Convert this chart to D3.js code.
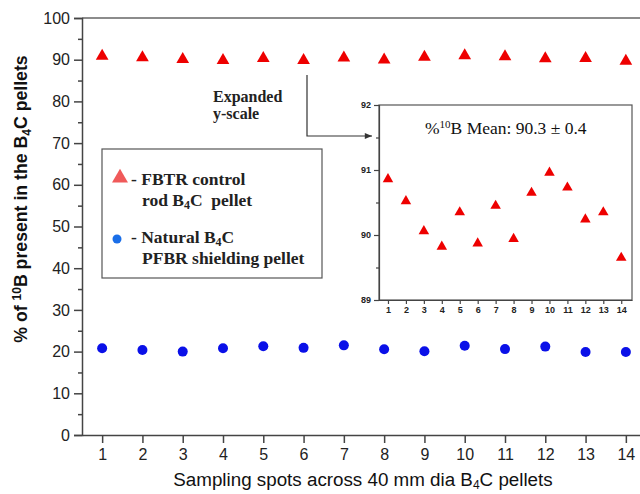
<!DOCTYPE html>
<html><head><meta charset="utf-8">
<script src="https://cdn.jsdelivr.net/npm/d3@7"></script>
<style>body{margin:0;background:#fff}svg{display:block}</style>
</head><body>
<script>
const spots = [1,2,3,4,5,6,7,8,9,10,11,12,13,14];
const fbtr = [90.86,90.52,90.06,89.82,90.35,89.87,90.45,89.94,90.65,90.96,90.73,90.24,90.35,89.65];
const natural = [20.8,20.4,20.0,20.8,21.3,20.9,21.5,20.55,20.1,21.4,20.6,21.2,19.9,19.9];
const yTicks = [0,10,20,30,40,50,60,70,80,90,100];
const insetYTicks = [89,90,91,92];

const W=640,H=494;
const svg=d3.select("body").append("svg").attr("width",W).attr("height",H);
const sans="'Liberation Sans', Arial, sans-serif";
const serif="'Liberation Serif', 'Times New Roman', serif";
const axisCol="#444";

const x=d3.scaleLinear().domain([0.5,14.5]).range([82,646]);
const y=d3.scaleLinear().domain([0,100]).range([435,18]);

// top frame
svg.append("line").attr("x1",82).attr("x2",640).attr("y1",y(100)).attr("y2",y(100)).attr("stroke","#666").attr("stroke-width",1.5);

// y axis
const ya=svg.append("g").attr("transform","translate(82,0)")
  .call(d3.axisLeft(y).tickValues(yTicks).tickSize(8).tickPadding(4));
ya.selectAll("text").attr("font-family",sans).attr("font-size",16).attr("fill","#222");
ya.selectAll("line,path").attr("stroke",axisCol).attr("stroke-width",1.5);
const yminor=svg.append("g").attr("transform","translate(82,0)")
  .call(d3.axisLeft(y).tickValues(d3.range(5,100,10)).tickSize(4).tickFormat(""));
yminor.select("path").remove();
yminor.selectAll("line").attr("stroke",axisCol).attr("stroke-width",1.5);

// x axis
const xa=svg.append("g").attr("transform","translate(0,435)")
  .call(d3.axisBottom(x).tickValues(spots).tickSize(8).tickPadding(6).tickSizeOuter(0));
xa.selectAll("text").attr("font-family",sans).attr("font-size",16).attr("fill","#222");
xa.selectAll("line,path").attr("stroke",axisCol).attr("stroke-width",1.5);

// axis titles
const yt=svg.append("text").attr("transform","translate(27,199) rotate(-90)")
  .attr("text-anchor","middle").attr("font-family",sans).attr("font-size",17.7).attr("font-weight","bold").attr("fill","#111");
yt.append("tspan").text("% of ");
yt.append("tspan").attr("dy",-6).attr("font-size",12).text("10");
yt.append("tspan").attr("dy",6).text("B present in the B");
yt.append("tspan").attr("dy",4).attr("font-size",12).text("4");
yt.append("tspan").attr("dy",-4).text("C pellets");

const xt=svg.append("text").attr("x",363).attr("y",486).attr("text-anchor","middle")
  .attr("font-family",sans).attr("font-size",18.8).attr("fill","#111");
xt.append("tspan").text("Sampling spots across 40 mm dia B");
xt.append("tspan").attr("dy",3).attr("font-size",12).text("4");
xt.append("tspan").attr("dy",-3).text("C pellets");

// main markers
const tri=d3.symbol().type(d3.symbolTriangle);
svg.append("g").selectAll("path").data(spots).join("path")
  .attr("d",tri.size(70)).attr("transform",(d,i)=>`translate(${x(d)},${y(fbtr[i])})`).attr("fill","#ee0000");
svg.append("g").selectAll("circle").data(spots).join("circle")
  .attr("cx",d=>x(d)).attr("cy",(d,i)=>y(natural[i])).attr("r",5).attr("fill","#0a10e8");

// Expanded y-scale annotation
svg.append("text").attr("x",213).attr("y",102).attr("font-family",serif).attr("font-size",16).attr("font-weight","bold").attr("fill","#222").text("Expanded");
svg.append("text").attr("x",213).attr("y",119).attr("font-family",serif).attr("font-size",16).attr("font-weight","bold").attr("fill","#222").text("y-scale");
svg.append("defs").append("marker").attr("id","ah").attr("viewBox","0 0 10 10").attr("refX",10).attr("refY",5)
  .attr("markerWidth",7).attr("markerHeight",6).attr("orient","auto")
  .append("path").attr("d","M0,1 L10,5 L0,9 z").attr("fill","#333");
svg.append("path").attr("d","M307,75 L307,136 L372,136").attr("fill","none").attr("stroke","#333").attr("stroke-width",1.2).attr("marker-end","url(#ah)");

// legend
svg.append("rect").attr("x",102).attr("y",149).attr("width",220).attr("height",129).attr("fill","#fff").attr("stroke","#555").attr("stroke-width",1.2);
svg.append("path").attr("d",tri.size(110)).attr("transform","translate(120,178)").attr("fill","#f05a5a");
svg.append("circle").attr("cx",117).attr("cy",239).attr("r",4.5).attr("fill","#1a6ee8");
const lf=(xx,yy)=>svg.append("text").attr("x",xx).attr("y",yy).attr("font-family",serif).attr("font-size",17.5).attr("font-weight","bold").attr("fill","#222");
lf(131,185).text("- FBTR control");
let t=lf(142,206); t.append("tspan").text("rod B"); t.append("tspan").attr("dy",3).attr("font-size",12).text("4"); t.append("tspan").attr("dy",-3).text("C\u00a0\u00a0pellet");
t=lf(131,243); t.append("tspan").text("- Natural B"); t.append("tspan").attr("dy",3).attr("font-size",12).text("4"); t.append("tspan").attr("dy",-3).text("C");
lf(142,264).text("PFBR shielding pellet");

// inset
const ix=d3.scaleLinear().domain([0.5,14.6]).range([379,632]);
const iy=d3.scaleLinear().domain([89,92]).range([300,105]);
svg.append("rect").attr("x",379).attr("y",105).attr("width",253).attr("height",195).attr("fill","#fff").attr("stroke","#555").attr("stroke-width",1.2);
const iya=svg.append("g").attr("transform","translate(379,0)").call(d3.axisLeft(iy).tickValues(insetYTicks).tickSize(5).tickPadding(3).tickFormat(d3.format("d")));
iya.selectAll("text").attr("font-family",sans).attr("font-size",9).attr("font-weight","bold").attr("fill","#222");
iya.selectAll("line,path").attr("stroke",axisCol).attr("stroke-width",1.2);
const iym=svg.append("g").attr("transform","translate(379,0)").call(d3.axisLeft(iy).tickValues([89.5,90.5,91.5]).tickSize(3).tickFormat(""));
iym.select("path").remove(); iym.selectAll("line").attr("stroke",axisCol).attr("stroke-width",1.2);
const ixa=svg.append("g").attr("transform","translate(0,300)").call(d3.axisBottom(ix).tickValues(spots).tickSize(4).tickPadding(3).tickSizeOuter(0));
ixa.selectAll("text").attr("font-family",sans).attr("font-size",9).attr("font-weight","bold").attr("fill","#222");
ixa.selectAll("line,path").attr("stroke",axisCol).attr("stroke-width",1.2);
svg.append("g").selectAll("path").data(spots).join("path")
  .attr("d",tri.size(48)).attr("transform",(d,i)=>`translate(${ix(d)},${iy(fbtr[i])})`).attr("fill","#ee0000");
const mt=svg.append("text").attr("x",425).attr("y",134).attr("font-family",serif).attr("font-size",17.5).attr("fill","#111");
mt.append("tspan").text("%");
mt.append("tspan").attr("dy",-6).attr("font-size",11).text("10");
mt.append("tspan").attr("dy",6).text("B Mean: 90.3 \u00b1 0.4");
</script>
</body></html>
